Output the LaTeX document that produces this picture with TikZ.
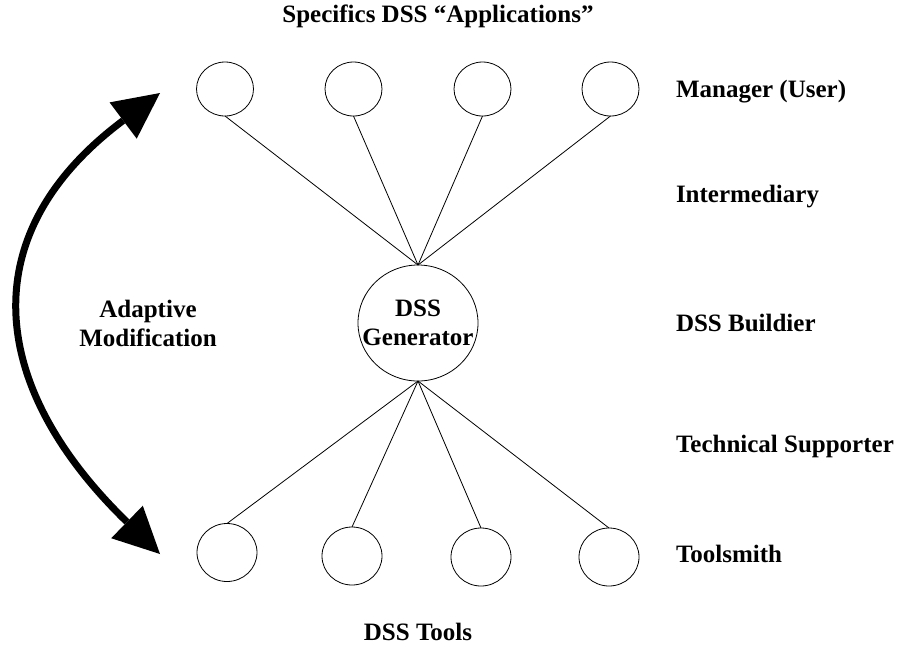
\documentclass[tikz,border=0pt]{standalone}
\usepackage{fontspec}
\setmainfont{Liberation Serif}
\usetikzlibrary{shapes.geometric,arrows.meta}
\begin{document}
\begin{tikzpicture}[x=0.75pt,y=-0.75pt,
  lbl/.style={font=\bfseries\fontsize{18.75pt}{21.75pt}\selectfont, inner sep=0pt, outer sep=0pt},
  role/.style={lbl, anchor=base west},
  oval/.style 2 args={ellipse, draw, line width=0.6pt, inner sep=0pt, outer sep=0pt,
                      minimum width=#1, minimum height=#2},
  app/.style={oval={42.75pt}{40.5pt}},
  tool/.style={oval={45pt}{43.5pt}},
  link/.style={line width=0.6pt},
  loopcurve/.style={line width=5.25pt,
    >={Triangle[length=34.5pt,width=34pt,line width=0pt]}, <->}
]
\useasboundingbox (0,0) rectangle (899,644);

% specific applications
\node[app] (t1) at (225,89)   {};
\node[app] (t2) at (353.5,89) {};
\node[app] (t3) at (482.5,89) {};
\node[app] (t4) at (610.5,89) {};

% generator
\node[oval={90pt}{87pt}] (gen) at (418,323) {};
\node[lbl, align=center] (gentext) at (gen.center) {DSS\\Generator};

% tools
\node[tool] (b1) at (227,552.5) {};
\node[tool] (b2) at (352,556)   {};
\node[tool] (b3) at (481,557)   {};
\node[tool] (b4) at (609,557)   {};

% connectors
\foreach \n in {t1,t2,t3,t4} \draw[link] (\n.south) -- (gen.north);
\foreach \n in {b1,b2,b3,b4} \draw[link] (gen.south) -- (\n.north);

% headings and roles
\node[lbl, anchor=base] (title) at (438,22) {Specifics DSS “Applications”};
\node[lbl, anchor=base] (tools) at (418,640) {DSS Tools};
\node[role] (r1) at (676,97)  {Manager (User)};
\node[role] (r2) at (676,202) {Intermediary};
\node[role] (r3) at (676,331) {DSS Buildier};
\node[role] (r4) at (676,452) {Technical Supporter};
\node[role] (r5) at (676,562) {Toolsmith};

% adaptive modification cycle
\node[lbl, align=center] (adapt) at (148,323) {Adaptive\\Modification};
\coordinate (ctop) at (160,93);
\coordinate (cbot) at (160,554);
\draw[loopcurve] (cbot) .. controls (-11,388) and (-30,235) .. (ctop);
\end{tikzpicture}
\end{document}
